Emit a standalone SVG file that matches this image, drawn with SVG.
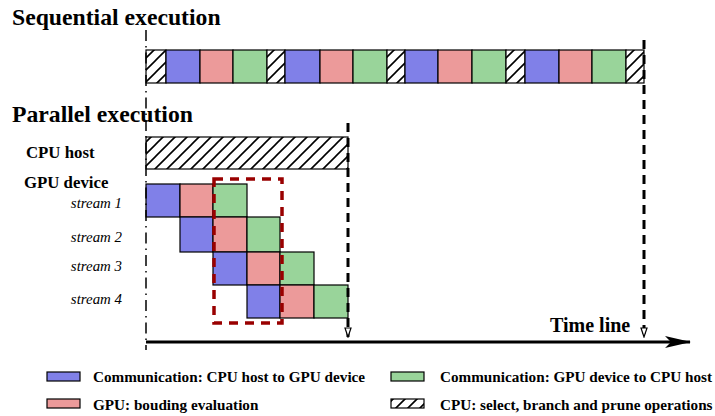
<svg xmlns="http://www.w3.org/2000/svg" width="715" height="416" viewBox="0 0 715 416">
<defs>
<pattern id="hatch" patternUnits="userSpaceOnUse" width="12" height="12">
<rect width="12" height="12" fill="#fff"/>
<path d="M-3,15 L15,-3 M-3,3 L3,-3 M9,15 L15,9" stroke="#000" stroke-width="1.6"/>
</pattern>
<marker id="open" markerWidth="11" markerHeight="8" refX="10" refY="4" orient="auto" markerUnits="userSpaceOnUse" viewBox="0 0 11 8">
<path d="M1,1 L10,4 L1,7 Z" fill="#fff" stroke="#000" stroke-width="1.2"/>
</marker>
<marker id="solid" markerWidth="26" markerHeight="12" refX="25" refY="6" orient="auto" markerUnits="userSpaceOnUse" viewBox="0 0 26 12">
<path d="M0,0 L26,6 L0,12 L6,6 Z" fill="#000"/>
</marker>
</defs>
<style>
.b{fill:#8080e8;stroke:#000;stroke-width:1.2}
.p{fill:#ec9a9a;stroke:#000;stroke-width:1.2}
.g{fill:#99d49a;stroke:#000;stroke-width:1.2}
.h{fill:url(#hatch);stroke:#000;stroke-width:1.2}
text{font-family:"Liberation Serif","Times New Roman",Times,"DejaVu Serif",serif;fill:#000}
.title{font-weight:bold;font-size:23.7px}
.lab{font-weight:bold;font-size:16.8px}
.st{font-style:italic;font-size:14.9px;text-anchor:end}
.leg{font-weight:bold;font-size:15.2px}
.tl{font-weight:bold;font-size:20px}
.dash{stroke:#000;stroke-width:3;stroke-dasharray:9,6;fill:none}
</style>

<text class="title" x="12" y="25">Sequential execution</text>
<text class="title" x="12" y="122">Parallel execution</text>

<g id="sequential">
<rect class="h" x="146" y="50" width="20" height="33"/>
<rect class="b" x="166" y="50" width="34" height="33"/>
<rect class="p" x="200" y="50" width="33" height="33"/>
<rect class="g" x="233" y="50" width="34" height="33"/>
<rect class="h" x="267" y="50" width="18" height="33"/>
<rect class="b" x="285" y="50" width="35" height="33"/>
<rect class="p" x="320" y="50" width="33" height="33"/>
<rect class="g" x="353" y="50" width="34" height="33"/>
<rect class="h" x="387" y="50" width="18" height="33"/>
<rect class="b" x="405" y="50" width="33" height="33"/>
<rect class="p" x="438" y="50" width="34" height="33"/>
<rect class="g" x="472" y="50" width="34" height="33"/>
<rect class="h" x="506" y="50" width="19" height="33"/>
<rect class="b" x="525" y="50" width="34" height="33"/>
<rect class="p" x="559" y="50" width="33" height="33"/>
<rect class="g" x="592" y="50" width="34" height="33"/>
<rect class="h" x="626" y="50" width="18" height="33"/>
</g>

<g id="cpu-host">
<text class="lab" x="26" y="158">CPU host</text>
<rect class="h" x="146" y="137" width="202" height="32"/>
</g>

<g id="gpu-device">
<text class="lab" x="24" y="188">GPU device</text>
</g>

<g id="stream1">
<text class="st" x="122" y="208">stream 1</text>
<rect class="b" x="146" y="184" width="34" height="33"/>
<rect class="p" x="180" y="184" width="33" height="33"/>
<rect class="g" x="213" y="184" width="34" height="33"/>
</g>
<g id="stream2">
<text class="st" x="122" y="242">stream 2</text>
<rect class="b" x="180" y="217" width="33" height="35"/>
<rect class="p" x="213" y="217" width="34" height="35"/>
<rect class="g" x="247" y="217" width="33" height="35"/>
</g>
<g id="stream3">
<text class="st" x="122" y="271">stream 3</text>
<rect class="b" x="213" y="252" width="34" height="33"/>
<rect class="p" x="247" y="252" width="33" height="33"/>
<rect class="g" x="280" y="252" width="34" height="33"/>
</g>
<g id="stream4">
<text class="st" x="122" y="304">stream 4</text>
<rect class="b" x="247" y="285" width="33" height="33"/>
<rect class="p" x="280" y="285" width="34" height="33"/>
<rect class="g" x="314" y="285" width="34" height="33"/>
</g>

<g id="highlight">
<rect x="214" y="179" width="68" height="144" fill="none" stroke="#990000" stroke-width="3.5" stroke-dasharray="9,7"/>
</g>

<g id="connectors">
<line x1="146" y1="30" x2="146" y2="350" stroke="#000" stroke-width="1.5" stroke-dasharray="11,5,1.5,5"/>
<line class="dash" x1="348" y1="123" x2="348" y2="337" marker-end="url(#open)"/>
<line class="dash" x1="644" y1="40" x2="644" y2="337" marker-end="url(#open)"/>
<line x1="146" y1="342" x2="690" y2="342" stroke="#000" stroke-width="3" marker-end="url(#solid)"/>
</g>

<text class="tl" x="550" y="332">Time line</text>

<g id="legend">
<rect class="b" x="47" y="372" width="33" height="9"/>
<text class="leg" x="93" y="382">Communication: CPU host to GPU device</text>
<rect class="p" x="47" y="399" width="33" height="9"/>
<text class="leg" x="93" y="410">GPU: bouding evaluation</text>
<rect class="g" x="391" y="372" width="33" height="9"/>
<text class="leg" x="440" y="382">Communication: GPU device to CPU host</text>
<rect class="h" x="391" y="399" width="33" height="9"/>
<text class="leg" x="440" y="410">CPU: select, branch and prune operations</text>
</g>
</svg>
